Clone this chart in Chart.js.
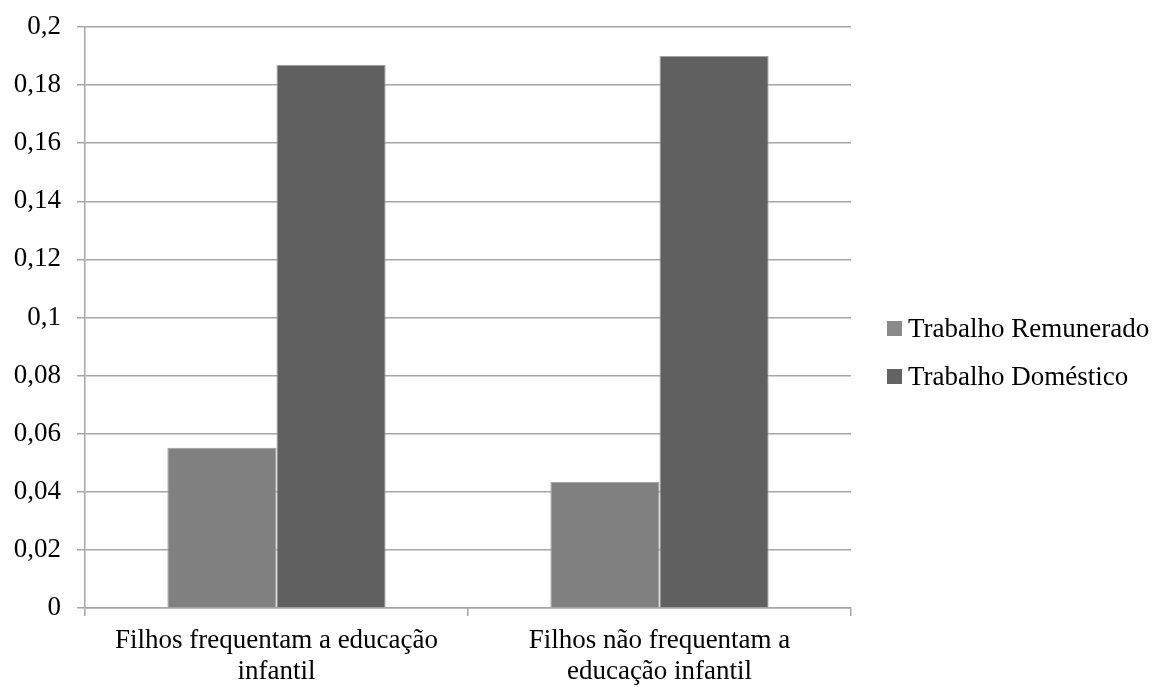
<!DOCTYPE html>
<html>
<head>
<meta charset="utf-8">
<script src="https://cdn.jsdelivr.net/npm/chart.js@4.4.1/dist/chart.umd.min.js"></script>
<style>
  html, body { margin: 0; padding: 0; background: #ffffff; }
  #wrap { width: 1164px; height: 687px; }
</style>
</head>
<body>
<div id="wrap"><canvas id="chart" width="1164" height="687"></canvas></div>
<script>
// Categories (multi-line labels) and series values
const categories = [
  ['Filhos frequentam a educação', 'infantil'],
  ['Filhos não frequentam a', 'educação infantil']
];
const seriesNames = ['Trabalho Remunerado', 'Trabalho Doméstico'];
const trabalhoRemunerado = [0.0552, 0.0434];
const trabalhoDomestico = [0.187, 0.190];
const yTicks = [0, 0.02, 0.04, 0.06, 0.08, 0.1, 0.12, 0.14, 0.16, 0.18, 0.2];

const serif = '"Liberation Serif", "Times New Roman", serif';
const FONT_SIZE = 27;
const legendColors = ['#8a8a8a', '#636363'];

// Legend drawn to the right of the plot: small square swatch followed by the series name
const sideLegend = {
  id: 'sideLegend',
  afterDraw(chart) {
    const { ctx, chartArea } = chart;
    const boxSize = 15;
    const rowGap = 48;
    const x = chartArea.right + 36;
    const centerY = chart.height / 2 + 9;
    const n = chart.data.datasets.length;
    const firstY = centerY - (n - 1) * rowGap / 2;
    ctx.save();
    ctx.font = FONT_SIZE + 'px ' + serif;
    ctx.textBaseline = 'middle';
    ctx.textAlign = 'left';
    chart.data.datasets.forEach((ds, i) => {
      const y = firstY + i * rowGap;
      ctx.fillStyle = legendColors[i];
      ctx.fillRect(x, y - boxSize / 2, boxSize, boxSize);
      ctx.fillStyle = '#000000';
      ctx.fillText(ds.label, x + boxSize + 6, y + 1);
    });
    ctx.restore();
  }
};

new Chart(document.getElementById('chart'), {
  type: 'bar',
  data: {
    labels: categories,
    datasets: [
      {
        label: seriesNames[0],
        data: trabalhoRemunerado,
        backgroundColor: '#808080',
        borderColor: '#a3a3a3',
        borderWidth: 1
      },
      {
        label: seriesNames[1],
        data: trabalhoDomestico,
        backgroundColor: '#606060',
        borderColor: '#a3a3a3',
        borderWidth: 1
      }
    ]
  },
  plugins: [sideLegend],
  options: {
    responsive: false,
    animation: false,
    devicePixelRatio: 1,
    layout: { padding: { top: 27, right: 313, bottom: 0, left: 0 } },
    datasets: {
      bar: { categoryPercentage: 0.57, barPercentage: 1.0 }
    },
    plugins: {
      tooltip: { enabled: false },
      legend: { display: false }
    },
    scales: {
      x: {
        afterFit: (scale) => { scale.height = 79; },
        grid: {
          drawOnChartArea: false,
          drawTicks: true,
          tickLength: 8,
          color: '#a6a6a6',
          lineWidth: 1.5
        },
        border: { color: '#a6a6a6', width: 1.5 },
        ticks: {
          font: { family: serif, size: FONT_SIZE, lineHeight: 1.15 },
          color: '#000000',
          maxRotation: 0,
          autoSkip: false,
          padding: 9
        }
      },
      y: {
        min: 0,
        max: 0.2,
        afterFit: (scale) => {
          scale.width = 85;
          scale.paddingTop = 0;
          scale.paddingBottom = 0;
        },
        afterBuildTicks: (scale) => {
          scale.ticks = yTicks.map(v => ({ value: v }));
        },
        grid: {
          color: '#a6a6a6',
          lineWidth: 1.5,
          drawTicks: true,
          tickLength: 8
        },
        border: { color: '#a6a6a6', width: 1.5 },
        ticks: {
          font: { family: serif, size: FONT_SIZE },
          color: '#000000',
          padding: 16,
          callback: (v) => String(+v.toFixed(2)).replace('.', ',')
        }
      }
    }
  }
});
</script>
</body>
</html>
